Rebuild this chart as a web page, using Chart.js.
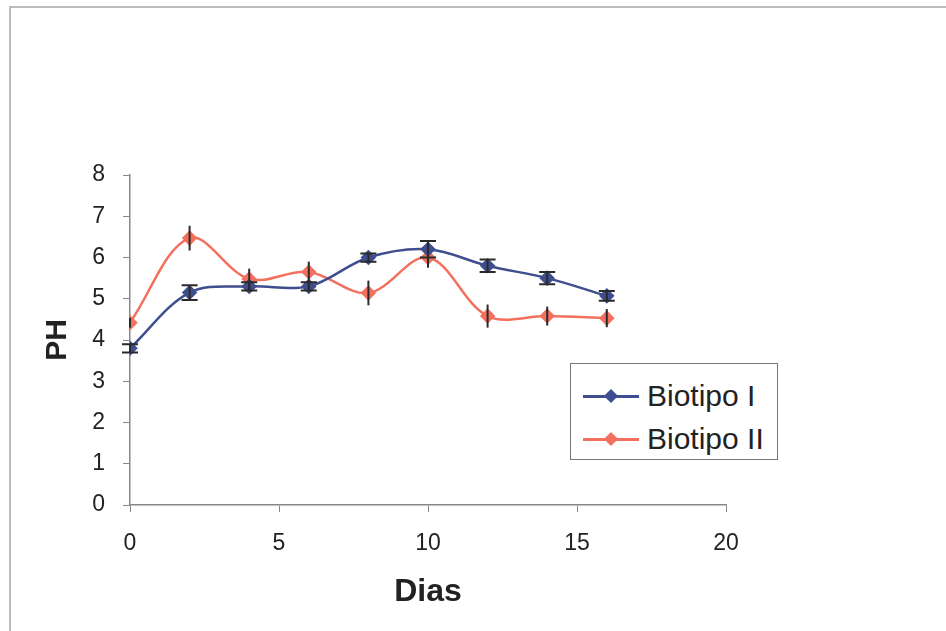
<!DOCTYPE html>
<html>
<head>
<meta charset="utf-8">
<script src="https://cdn.jsdelivr.net/npm/chart.js@4.4.0/dist/chart.umd.min.js"></script>
<style>
    html, body { margin: 0; padding: 0; background: #fff; }
    #wrap { position: relative; width: 946px; height: 631px; }
    #frame { position: absolute; left: 9px; top: 6px; right: 0; bottom: 0;
             border-top: 2px solid #bbb; border-left: 2px solid #bbb; pointer-events: none; }
    #legend { position: absolute; left: 570px; top: 363px; width: 206px; height: 95px;
              border: 1px solid #777; background: #fff; font-family: "Liberation Sans", Arial, sans-serif; }
    .item { position: absolute; left: 12px; height: 40px; display: flex; align-items: center; font-size: 30px; color: #222; }
    .sym { position: relative; width: 56px; height: 3px; margin-right: 8px; }
    .sym i { position: absolute; left: 23px; top: -4px; width: 10px; height: 10px; transform: rotate(45deg); }
</style>
</head>
<body>
<div id="wrap">
    <canvas id="phChart" width="946" height="631"></canvas>
    <div id="frame"></div>
    <div id="legend"></div>
</div>
<script>
const dias = [0, 2, 4, 6, 8, 10, 12, 14, 16];
const biotipo1 = [3.8, 5.15, 5.3, 5.3, 6.0, 6.2, 5.8, 5.5, 5.07];
const biotipo1Err = [0.1, 0.18, 0.1, 0.1, 0.1, 0.2, 0.15, 0.15, 0.12];
const biotipo2 = [4.42, 6.47, 5.48, 5.65, 5.14, 6.0, 4.58, 4.58, 4.53];
const biotipo2Err = [0.12, 0.3, 0.25, 0.25, 0.3, 0.25, 0.28, 0.23, 0.22];
const xTicks = [0, 5, 10, 15, 20];
const yTicks = [0, 1, 2, 3, 4, 5, 6, 7, 8];

const blue = '#3f4e8e';
const red = '#f4705e';

// vertical error bars, drawn through the scales
const errorBars = {
    id: 'errorBars',
    afterDatasetsDraw(chart) {
        const ctx = chart.ctx;
        const xs = chart.scales.x, ys = chart.scales.y;
        chart.data.datasets.forEach(ds => {
            ctx.save();
            ctx.strokeStyle = '#2a2a2a';
            ctx.lineWidth = 2;
            ds.data.forEach((p, i) => {
                const e = ds.errors[i];
                const x = xs.getPixelForValue(p.x);
                const y1 = ys.getPixelForValue(p.y + e);
                const y2 = ys.getPixelForValue(p.y - e);
                ctx.beginPath();
                ctx.moveTo(x, y1); ctx.lineTo(x, y2);
                if (ds.caps) {
                    ctx.moveTo(x - 8, y1); ctx.lineTo(x + 8, y1);
                    ctx.moveTo(x - 8, y2); ctx.lineTo(x + 8, y2);
                }
                ctx.stroke();
            });
            ctx.restore();
        });
    }
};

const toPoints = vals => dias.map((d, i) => ({ x: d, y: vals[i] }));

const chart = new Chart(document.getElementById('phChart').getContext('2d'), {
    type: 'line',
    data: {
        datasets: [{
            label: 'Biotipo I',
            data: toPoints(biotipo1),
            errors: biotipo1Err,
            caps: true,
            borderColor: blue,
            backgroundColor: blue,
            borderWidth: 2.5,
            pointStyle: 'rectRot',
            pointRadius: 6,
            tension: 0.35
        }, {
            label: 'Biotipo II',
            data: toPoints(biotipo2),
            errors: biotipo2Err,
            caps: false,
            borderColor: red,
            backgroundColor: red,
            borderWidth: 2.5,
            pointStyle: 'rectRot',
            pointRadius: 6,
            tension: 0.35
        }]
    },
    options: {
        responsive: false,
        animation: false,
        layout: { padding: { left: 40, right: 220, top: 175, bottom: 20 } },
        plugins: { legend: { display: false }, tooltip: { enabled: false } },
        scales: {
            x: {
                type: 'linear', min: 0, max: 20,
                afterBuildTicks: s => { s.ticks = xTicks.map(v => ({ value: v })); },
                afterFit: s => { s.height = 106; },
                grid: { drawOnChartArea: false, tickLength: 7, color: '#888' },
                border: { color: '#888', width: 1.5 },
                ticks: { color: '#222', padding: 18, font: { family: 'Liberation Sans', size: 23 } },
                title: { display: true, text: 'Dias', color: '#222', padding: 0,
                         font: { family: 'Liberation Sans', size: 32, weight: 'bold' } }
            },
            y: {
                min: 0, max: 8,
                afterBuildTicks: s => { s.ticks = yTicks.map(v => ({ value: v })); },
                afterFit: s => { s.width = 90; },
                grid: { drawOnChartArea: false, tickLength: 7, color: '#888' },
                border: { color: '#888', width: 1.5 },
                ticks: { color: '#222', padding: 18, font: { family: 'Liberation Sans', size: 23 } },
                title: { display: true, text: 'PH', color: '#222', padding: 0,
                         font: { family: 'Liberation Sans', size: 30, weight: 'bold' } }
            }
        }
    },
    plugins: [errorBars]
});

document.getElementById('legend').innerHTML = chart.data.datasets.map((ds, i) => `
    <div class="item" style="top:${12 + i * 43}px">
        <span class="sym" style="background:${ds.borderColor}"><i style="background:${ds.borderColor}"></i></span>${ds.label}
    </div>
`).join('');
</script>
</body>
</html>
